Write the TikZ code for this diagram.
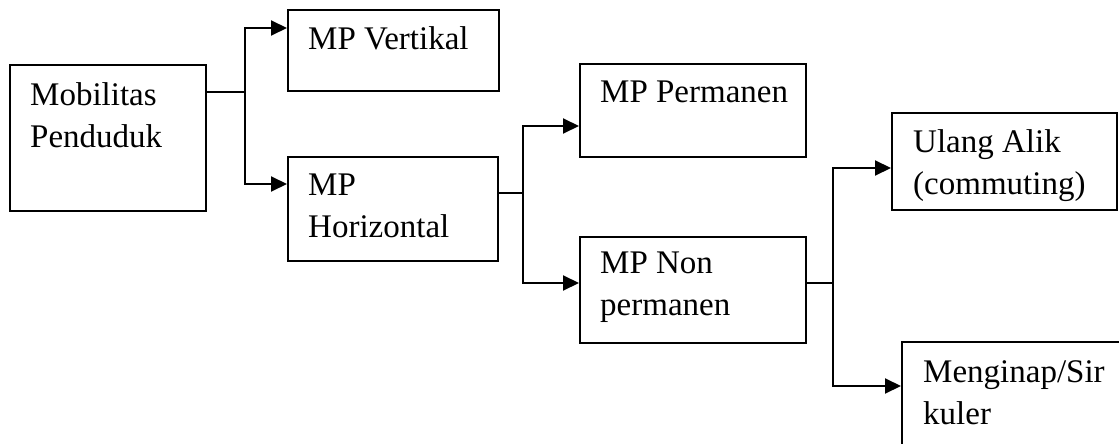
\documentclass[tikz,border=0pt]{standalone}
\usepackage{fontspec}
\setmainfont{Liberation Serif}
\usetikzlibrary{arrows.meta}

\begin{document}
\begin{tikzpicture}[x=1pt, y=-1pt,
  box/.style={draw, rectangle, line width=2pt, anchor=north west, inner sep=0pt},
  txt/.style={anchor=north west, align=left, inner sep=0pt, font=\fontsize{33}{42}\selectfont},
  arr/.style={-{Triangle[length=16pt,width=15pt]}, line width=2pt},
  stub/.style={line width=1.5pt}]
\useasboundingbox (0,0) rectangle (1119,444);
\clip (0,0) rectangle (1119,444);

% Mobilitas Penduduk
\node[box, minimum width=196pt, minimum height=146pt] (mob) at (9,64) {};
\node[txt] (mob-t) at ([shift={(21pt,-18pt)}]mob.north west) {Mobilitas\\Penduduk};

% MP Vertikal and MP Horizontal
\node[box, minimum width=211pt, minimum height=81pt] (vert) at (287,9) {};
\node[txt] (vert-t) at ([shift={(21pt,-17pt)}]vert.north west) {MP Vertikal};
\node[box, minimum width=210pt, minimum height=104pt] (horiz) at (287,156) {};
\node[txt] (horiz-t) at ([shift={(21pt,-18pt)}]horiz.north west) {MP\\Horizontal};

% MP Permanen and MP Non permanen
\node[box, minimum width=226pt, minimum height=93pt] (perm) at (579,63) {};
\node[txt] (perm-t) at ([shift={(21pt,-18pt)}]perm.north west) {MP Permanen};
\node[box, minimum width=226pt, minimum height=106pt] (nonp) at (579,236) {};
\node[txt] (nonp-t) at ([shift={(21pt,-16pt)}]nonp.north west) {MP Non\\permanen};

% Ulang Alik and Menginap
\node[box, minimum width=225pt, minimum height=97pt] (ulang) at (891,112) {};
\node[txt] (ulang-t) at ([shift={(22pt,-17pt)}]ulang.north west) {Ulang Alik\\(commuting)};
\node[box, minimum width=230pt, minimum height=130pt] (mengi) at (901,341) {};
\node[txt] (mengi-t) at ([shift={(22pt,-19pt)}]mengi.north west) {Menginap/Sir\\kuler};

% Arrows
\coordinate (j1) at (245,92);
\coordinate (j1a) at (245,28);
\coordinate (j1b) at (245,184);
\draw[stub] (mob.east |- j1) -- (j1);
\draw[arr] (j1) |- (vert.west |- j1a);
\draw[arr] (j1) |- (horiz.west |- j1b);

\coordinate (j2) at (523,193);
\coordinate (j2a) at (523,126);
\coordinate (j2b) at (523,283);
\draw[stub] (horiz.east |- j2) -- (j2);
\draw[arr] (j2) |- (perm.west |- j2a);
\draw[arr] (j2) |- (nonp.west |- j2b);

\coordinate (j3) at (833,283);
\coordinate (j3a) at (833,168);
\coordinate (j3b) at (833,386);
\draw[stub] (nonp.east |- j3) -- (j3);
\draw[arr] (j3) |- (ulang.west |- j3a);
\draw[arr] (j3) |- (mengi.west |- j3b);
\end{tikzpicture}
\end{document}
